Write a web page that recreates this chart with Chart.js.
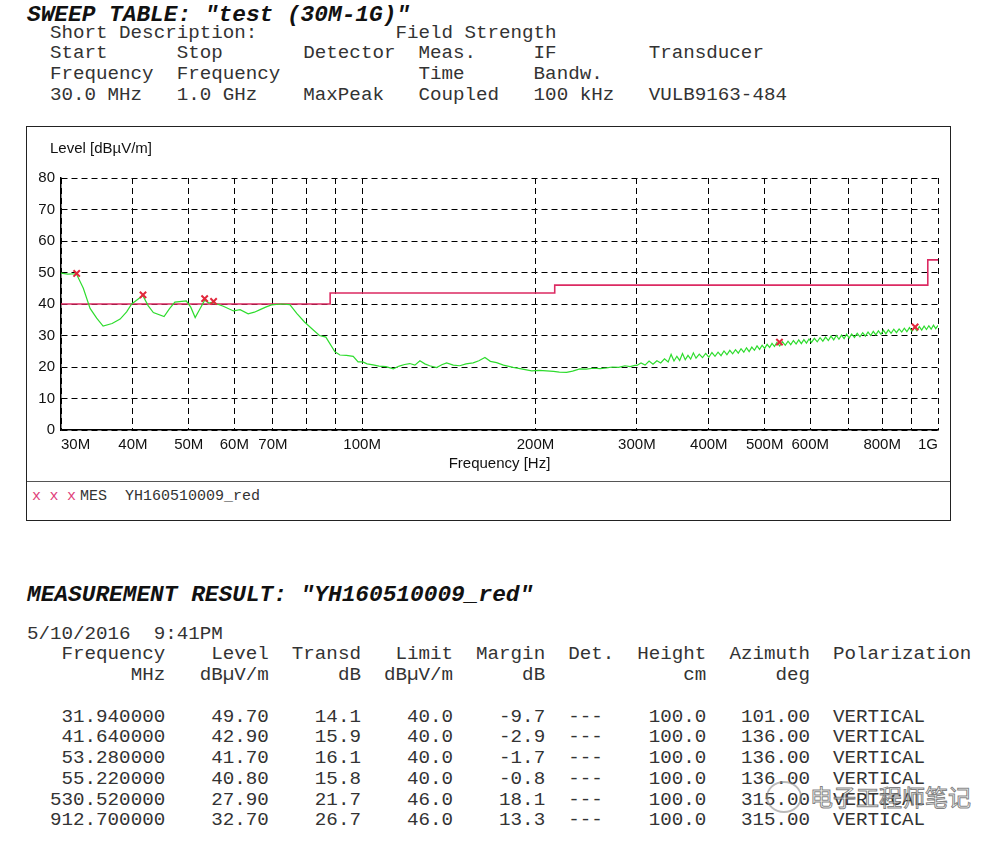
<!DOCTYPE html>
<html>
<head>
<meta charset="utf-8">
<title>Sweep Table - test (30M-1G)</title>
<script src="https://cdn.jsdelivr.net/npm/chart.js@4.4.1/dist/chart.umd.min.js"></script>
<style>
    body {
        margin: 0;
        width: 1003px;
        height: 842px;
        overflow: hidden;
        position: relative;
        background: #fff;
        color: #333;
    }
    .mono {
        position: absolute;
        margin: 0;
        font-family: "Liberation Mono", "DejaVu Sans Mono", monospace;
        white-space: pre;
    }
    .head {
        font-size: 22.8px;
        line-height: 26px;
        font-weight: bold;
        font-style: italic;
        color: #111;
    }
    .txt {
        font-size: 19.2px;
        line-height: 20.75px;
        color: #333;
    }
    #box {
        position: absolute;
        left: 26px;
        top: 126px;
        width: 925px;
        height: 395px;
        box-sizing: border-box;
        border: 1px solid #222;
    }
    #sep {
        position: absolute;
        left: 27px;
        top: 481px;
        width: 923px;
        height: 1px;
        background: #555;
    }
    #chartWrap {
        position: absolute;
        left: 27px;
        top: 127px;
        width: 922px;
        height: 353px;
    }
    #ylabel {
        position: absolute;
        left: 50px;
        top: 139px;
        font-family: "Liberation Sans", Arial, sans-serif;
        font-size: 15px;
        color: #111;
    }
    .leg {
        top: 487px;
        font-size: 15px;
        line-height: 20px;
        color: #333;
    }
    .leg.x {
        color: #e0407a;
    }
    #wm {
        position: absolute;
        left: 766px;
        top: 779px;
        height: 36px;
    }
    #wm .icon {
        position: absolute;
        left: 0;
        top: 2px;
        width: 32px;
        height: 28px;
        border: 2px solid rgba(140, 140, 140, 0.6);
        border-radius: 50%;
    }
    #wm .name {
        position: absolute;
        left: 44px;
        top: 0;
        white-space: nowrap;
        font-family: "Noto Sans CJK SC", sans-serif;
        font-size: 23px;
        line-height: 34px;
        color: rgba(255, 255, 255, 0.55);
        -webkit-text-stroke: 1px rgba(90, 90, 90, 0.75);
    }
</style>
</head>
<body>

<div class="mono head" style="left:27px; top:2px;">SWEEP TABLE: "test (30M-1G)"</div>
<pre class="mono txt" style="left:50px; top:22.6px;">Short Description:            Field Strength
Start      Stop       Detector  Meas.     IF        Transducer
Frequency  Frequency            Time      Bandw.
30.0 MHz   1.0 GHz    MaxPeak   Coupled   100 kHz   VULB9163-484</pre>

<div id="box"></div>
<div id="chartWrap"><canvas id="emcChart"></canvas></div>
<div id="ylabel">Level [dBµV/m]</div>
<div id="sep"></div>
<div class="mono leg x" style="left:32px;">x</div>
<div class="mono leg x" style="left:49.5px;">x</div>
<div class="mono leg x" style="left:67px;">x</div>
<div class="mono leg" style="left:80px;">MES  YH160510009_red</div>

<div class="mono head" style="left:27px; top:582px;">MEASUREMENT RESULT: "YH160510009_red"</div>
<pre id="result" class="mono txt" style="left:27px; top:623.6px;"></pre>

<div id="wm"><div class="icon"></div><div class="name">电子工程师笔记</div></div>

<script>
// Scan trace (MHz / dBµV/m)
var traceFreq = [
    30.0, 30.8, 31.9, 32.8, 33.7, 34.6, 35.5, 36.8, 38.0, 39.0,
    39.8, 40.8, 41.6, 42.5, 43.4, 45.3, 46.3, 47.3, 49.5, 50.4,
    51.3, 52.3, 53.3, 54.2, 54.8, 56.0, 57.4, 59.8, 61.4, 63.4,
    65.0, 66.5, 68.0, 69.6, 72.4, 74.9, 77.0, 79.5, 82.0, 84.3,
    86.5, 89.7, 91.5, 93.9, 96.5, 98.4, 100.3, 102, 104.5, 107,
    110, 113.3, 116, 118.5, 121, 123.5, 126, 128.5, 131, 134.7,
    137.5, 140.2, 144, 147.8, 151.5, 155.9, 159.5, 163.4, 167, 171.2,
    176, 182.9, 189, 197, 203, 209, 215, 220, 226.5, 232,
    238.8, 245, 252, 259, 265.9, 272, 279, 286, 292, 297.6,
    300, 305, 310, 315, 320, 325, 330, 335, 340, 344,
    348, 352, 356, 360, 364, 368, 372, 376, 380, 385,
    390, 395, 400, 405, 410, 415, 420, 425, 430, 435,
    440, 445, 450, 455, 460, 465, 470, 475, 480, 485,
    490, 495, 500, 505, 510, 515, 520, 525, 531, 537,
    543, 549, 555, 561, 567, 573, 579, 585, 591, 597,
    603, 610, 617, 624, 631, 638, 645, 652, 659, 666,
    673, 680, 687, 694, 701, 708, 716, 724, 732, 740,
    748, 756, 764, 772, 780, 788, 796, 804, 812, 820,
    829, 838, 847, 856, 865, 874, 883, 892, 901, 910,
    919, 928, 937, 946, 955, 964, 973, 982, 991, 1000
];
var traceLevel = [
    49.8, 49.5, 49.6, 45.0, 38.6, 35.5, 33.0, 33.8, 35.2, 37.5,
    40.0, 41.5, 42.7, 39.5, 37.3, 36.0, 38.5, 40.6, 41.0, 39.0,
    35.7, 38.5, 41.2, 40.3, 40.5, 40.0, 39.3, 37.8, 38.2, 36.9,
    37.4, 38.2, 39.0, 39.7, 40.0, 39.8, 37.0, 34.2, 32.0, 30.0,
    29.5, 24.8, 23.8, 23.7, 23.4, 21.6, 21.6, 21.0, 20.7, 20.3,
    20.1, 19.4, 20.3, 20.8, 21.1, 20.6, 22.0, 21.0, 20.4, 19.8,
    20.7, 21.3, 20.6, 20.4, 21.0, 21.3, 22.0, 23.0, 21.8, 21.4,
    20.6, 19.9, 19.4, 18.8, 18.9, 18.8, 18.6, 18.4, 18.3, 18.7,
    19.4, 19.3, 19.6, 19.5, 19.7, 20.0, 19.9, 20.4, 20.1, 20.5,
    20.5, 21.3, 20.6, 21.9, 20.9, 22.0, 21.3, 22.6, 21.6, 24.0,
    21.9, 23.4, 22.1, 24.3, 22.3, 23.7, 22.5, 24.5, 22.8, 24.1,
    23.0, 24.3, 23.1, 24.6, 23.4, 24.7, 23.6, 25.1, 23.9, 25.3,
    24.2, 25.5, 24.4, 25.8, 24.7, 26.1, 24.9, 26.3, 25.3, 26.7,
    25.6, 26.9, 25.9, 27.2, 26.2, 27.5, 26.5, 27.8, 26.7, 28.0,
    26.9, 28.2, 27.1, 28.4, 27.3, 28.6, 27.4, 28.7, 27.6, 28.9,
    27.8, 29.1, 28.0, 29.3, 28.2, 29.5, 28.4, 29.8, 28.6, 30.0,
    28.8, 30.1, 29.0, 30.4, 29.2, 30.5, 29.4, 30.7, 29.6, 30.9,
    29.8, 31.1, 30.0, 31.3, 30.2, 31.5, 30.4, 31.7, 30.5, 31.8,
    30.7, 32.0, 30.9, 32.1, 31.1, 32.3, 31.2, 32.5, 31.4, 32.6,
    31.5, 32.8, 31.7, 33.0, 31.9, 33.1, 32.0, 33.3, 32.2, 33.2
];

// Limit line: band edges (MHz) and level per band
var limitEdges = [30, 88, 216, 960, 1000];
var limitLevel = [40, 43.5, 46, 54];

// Final measurement (MES YH160510009_red)
var mesFreq = [31.94, 41.64, 53.28, 55.22, 530.52, 912.7];
var mesLevel = [49.7, 42.9, 41.7, 40.8, 27.9, 32.7];
var mesTransd = [14.1, 15.9, 16.1, 15.8, 21.7, 26.7];
var mesLimit = [40.0, 40.0, 40.0, 40.0, 46.0, 46.0];
var mesMargin = [-9.7, -2.9, -1.7, -0.8, 18.1, 13.3];
var mesHeight = [100.0, 100.0, 100.0, 100.0, 100.0, 100.0];
var mesAzimuth = [101.0, 136.0, 136.0, 136.0, 315.0, 315.0];
var mesPolar = ["VERTICAL", "VERTICAL", "VERTICAL", "VERTICAL", "VERTICAL", "VERTICAL"];

// Axes
var gridFreq = [30, 40, 50, 60, 70, 80, 90, 100, 200, 300, 400, 500, 600, 700, 800, 900, 1000];
var labelFreq = [30, 40, 50, 60, 70, 100, 200, 300, 400, 500, 600, 800, 1000];

function freqLabel(v) {
    return v >= 1000 ? (v / 1000) + "G" : v + "M";
}

var tracePoints = traceFreq.map(function (f, i) { return { x: f, y: traceLevel[i] }; });
var mesPoints = mesFreq.map(function (f, i) { return { x: f, y: mesLevel[i] }; });
var limitPoints = [];
for (var i = 0; i < limitLevel.length; i++) {
    limitPoints.push({ x: limitEdges[i], y: limitLevel[i] });
    limitPoints.push({ x: limitEdges[i + 1], y: limitLevel[i] });
}

var tickFont = { family: "'Liberation Sans', Arial, sans-serif", size: 15, lineHeight: 1.2 };

new Chart("emcChart", {
    type: "scatter",
    data: {
        datasets: [{
            label: "MES YH160510009_red",
            data: mesPoints,
            pointStyle: "crossRot",
            pointRadius: 4.5,
            pointBorderWidth: 2,
            borderColor: "#e2283c",
            backgroundColor: "#e2283c",
            order: 0,
        },
        {
            label: "Scan",
            data: tracePoints,
            showLine: true,
            borderColor: "#2edc2e",
            borderWidth: 1.2,
            pointRadius: 0,
            order: 1,
        },
        {
            label: "Limit",
            data: limitPoints,
            showLine: true,
            borderColor: "#dc2a62",
            borderWidth: 1.6,
            pointRadius: 0,
            order: 2,
        },
        ],
    },
    options: {
        responsive: true,
        maintainAspectRatio: false,
        animation: false,
        layout: {
            padding: { left: 0, right: 11, top: 51, bottom: 0 },
        },
        plugins: {
            legend: { display: false },
            tooltip: { enabled: false },
        },
        scales: {
            x: {
                type: "logarithmic",
                min: 30,
                max: 1000,
                afterBuildTicks: function (scale) {
                    scale.ticks = gridFreq.map(function (v) { return { value: v }; });
                },
                afterFit: function (scale) {
                    scale.height = 50;
                    scale.paddingLeft = 0;
                    scale.paddingRight = 0;
                },
                ticks: {
                    autoSkip: false,
                    maxRotation: 0,
                    align: "inner",
                    padding: 6,
                    color: "#111",
                    font: tickFont,
                    callback: function (v) {
                        return labelFreq.indexOf(v) >= 0 ? freqLabel(v) : "";
                    },
                },
                grid: {
                    color: "#000",
                    lineWidth: 1,
                    drawTicks: false,
                },
                border: {
                    display: true,
                    color: "#000",
                    width: 1.5,
                    dash: [6, 4],
                },
                title: {
                    display: true,
                    text: "Frequency [Hz]",
                    color: "#111",
                    font: tickFont,
                    padding: { top: 0, bottom: 7 },
                },
            },
            y: {
                min: 0,
                max: 80,
                afterFit: function (scale) {
                    scale.width = 34;
                },
                ticks: {
                    stepSize: 10,
                    padding: 6,
                    color: "#111",
                    font: tickFont,
                },
                grid: {
                    color: "#000",
                    lineWidth: 1,
                    drawTicks: false,
                },
                border: {
                    display: true,
                    color: "#000",
                    width: 1.5,
                    dash: [6, 4],
                },
            },
        },
    },
});

// Result table, fixed columns
function pad(s, n) {
    return String(s).padStart(n, " ");
}
var lines = [];
lines.push("5/10/2016  9:41PM");
lines.push(pad("Frequency", 12) + pad("Level", 9) + pad("Transd", 8) + pad("Limit", 8) + pad("Margin", 8) +
    "  Det." + pad("Height", 8) + pad("Azimuth", 9) + "  Polarization");
lines.push(pad("MHz", 12) + pad("dBµV/m", 9) + pad("dB", 8) + pad("dBµV/m", 8) + pad("dB", 8) +
    pad("", 6) + pad("cm", 8) + pad("deg", 9));
lines.push("");
for (var r = 0; r < mesFreq.length; r++) {
    lines.push(pad(mesFreq[r].toFixed(6), 12) + pad(mesLevel[r].toFixed(2), 9) + pad(mesTransd[r].toFixed(1), 8) +
        pad(mesLimit[r].toFixed(1), 8) + pad(mesMargin[r].toFixed(1), 8) + "  ---" +
        pad(mesHeight[r].toFixed(1), 9) + pad(mesAzimuth[r].toFixed(2), 9) + "  " + mesPolar[r]);
}
document.getElementById("result").textContent = lines.join("\n");
</script>
</body>
</html>
